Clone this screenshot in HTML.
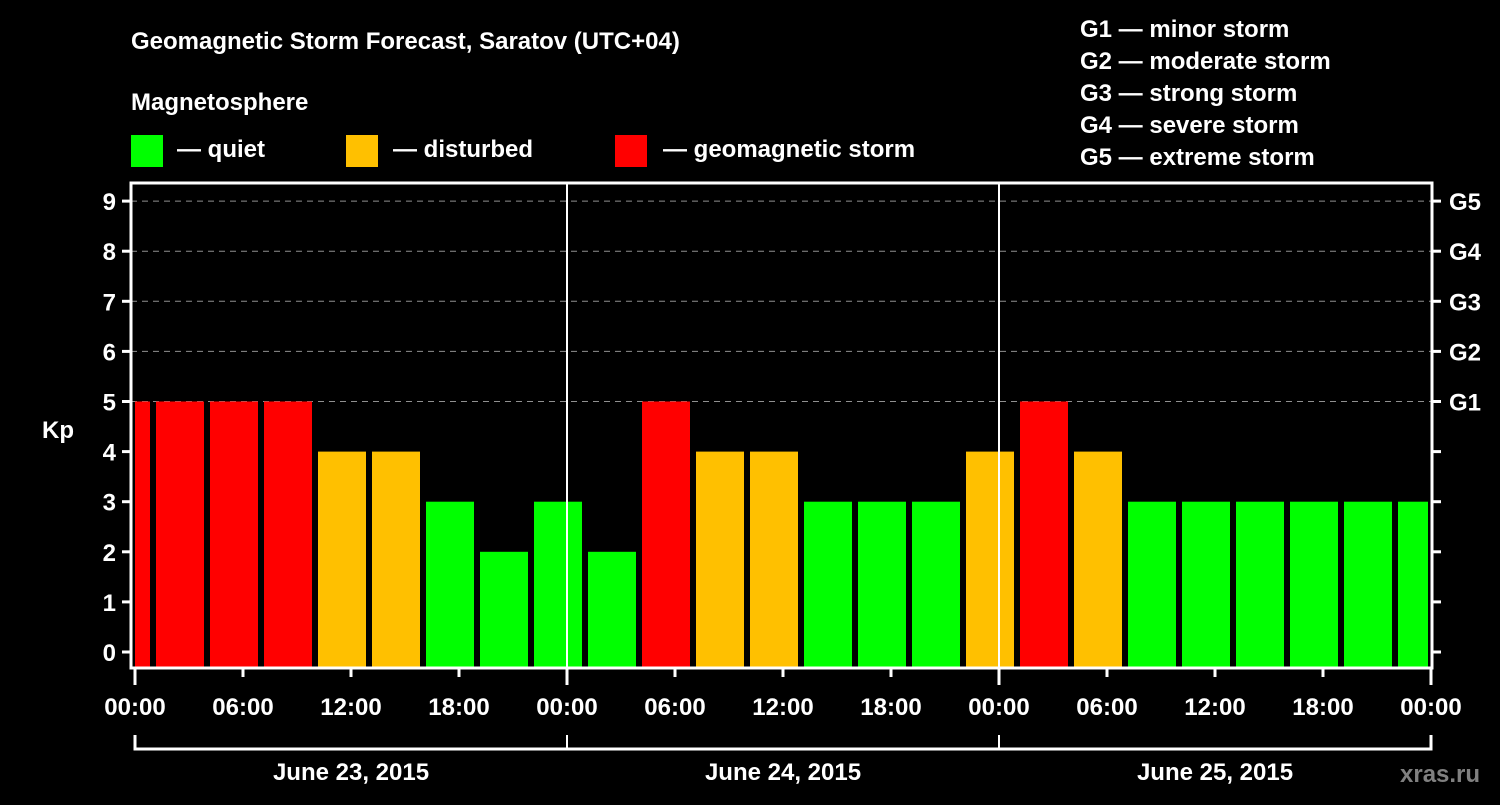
<!DOCTYPE html>
<html><head><meta charset="utf-8"><style>
body{margin:0;background:#000;width:1500px;height:800px;overflow:hidden}
svg text{font-family:"Liberation Sans",sans-serif;font-weight:bold;fill:#fff}
</style></head><body>
<svg id="c" width="1500" height="800">
<text x="131" y="49" font-size="24">Geomagnetic Storm Forecast, Saratov (UTC+04)</text>
<text x="131" y="110" font-size="24">Magnetosphere</text>
<g><rect x="131" y="135" width="32" height="32" fill="#00ff00"/><text x="177" y="157" font-size="24">— quiet</text></g>
<g><rect x="346" y="135" width="32" height="32" fill="#ffc000"/><text x="393" y="157" font-size="24">— disturbed</text></g>
<g><rect x="615" y="135" width="32" height="32" fill="#ff0000"/><text x="663" y="157" font-size="24">— geomagnetic storm</text></g>
<g font-size="24">
<text x="1080" y="37">G1 — minor storm</text><text x="1080" y="69">G2 — moderate storm</text><text x="1080" y="101">G3 — strong storm</text><text x="1080" y="133">G4 — severe storm</text><text x="1080" y="165">G5 — extreme storm</text></g>
<text x="42" y="438" font-size="24">Kp</text>
<text x="1400" y="782" font-size="24" fill="#808080" style="fill:#808080">xras.ru</text>
<g id="grid"></g><g id="bars"></g><g id="axes"></g>
</svg>
<script>
const kpValues=[5,5,5,5,4,4,3,2,3,2,5,4,4,3,3,3,4,5,4,3,3,3,3,3,3];
const dayLabels=["June 23, 2015","June 24, 2015","June 25, 2015"];
const hourLabels=["00:00","06:00","12:00","18:00"];
const gLabels=["G1","G2","G3","G4","G5"];
const NS="http://www.w3.org/2000/svg";
const X0=135,PXH=18,L=131,R=1432,T=183,B=668;
const x=h=>X0+PXH*h, y=v=>652-50.1*v;
function mk(p,t,a){const e=document.createElementNS(NS,t);for(const k in a)e.setAttribute(k,a[k]);document.getElementById(p).appendChild(e);return e;}
for(let v=5;v<=9;v++){const g=mk('grid','line',{x1:L,x2:R,y1:y(v),y2:y(v),stroke:'#909090','stroke-dasharray':'6,5'});

}
kpValues.forEach((v,i)=>{const s=-2+3*i;let a=x(s)+3,b=x(s+3)-3;a=Math.max(a,L+4);b=Math.min(b,R-4);
const c=v>=5?'#ff0000':v==4?'#ffc000':'#00ff00';
const r=mk('bars','rect',{x:a,y:y(v),width:b-a,height:B-y(v),fill:c});

});
for(let d=1;d<3;d++){const l=mk('axes','line',{x1:x(24*d),x2:x(24*d),y1:T,y2:B,stroke:'#fff','stroke-width':2});

}
const fr=mk('axes','rect',{x:L,y:T,width:R-L,height:B-T,fill:'none',stroke:'#fff','stroke-width':3});


for(let v=0;v<=9;v++){mk('axes','line',{x1:122,x2:L,y1:y(v),y2:y(v),stroke:'#fff','stroke-width':3});
mk('axes','line',{x1:R,x2:1441,y1:y(v),y2:y(v),stroke:'#fff','stroke-width':3});
const t=mk('axes','text',{x:116,y:y(v)+9,'font-size':24,'text-anchor':'end'});t.textContent=v;

}
gLabels.forEach((g,i)=>{const t=mk('axes','text',{x:1449,y:y(5+i)+9,'font-size':24});t.textContent=g;

});
for(let h=0;h<=72;h+=6){const big=h%24==0;mk('axes','line',{x1:x(h),x2:x(h),y1:B,y2:big?685:677,stroke:'#fff','stroke-width':3});
const t=mk('axes','text',{x:x(h),y:715,'font-size':24,'text-anchor':'middle'});t.textContent=hourLabels[(h/6)%4];

}
mk('axes','path',{d:`M${x(0)} 735V749H${x(72)}V735`,fill:'none',stroke:'#fff','stroke-width':3});
for(let d=1;d<3;d++)mk('axes','line',{x1:x(24*d),x2:x(24*d),y1:735,y2:749,stroke:'#fff','stroke-width':2});
dayLabels.forEach((d,i)=>{const t=mk('axes','text',{x:x(24*i+12),y:780,'font-size':24,'text-anchor':'middle'});t.textContent=d;

});
</script>
</body></html>
